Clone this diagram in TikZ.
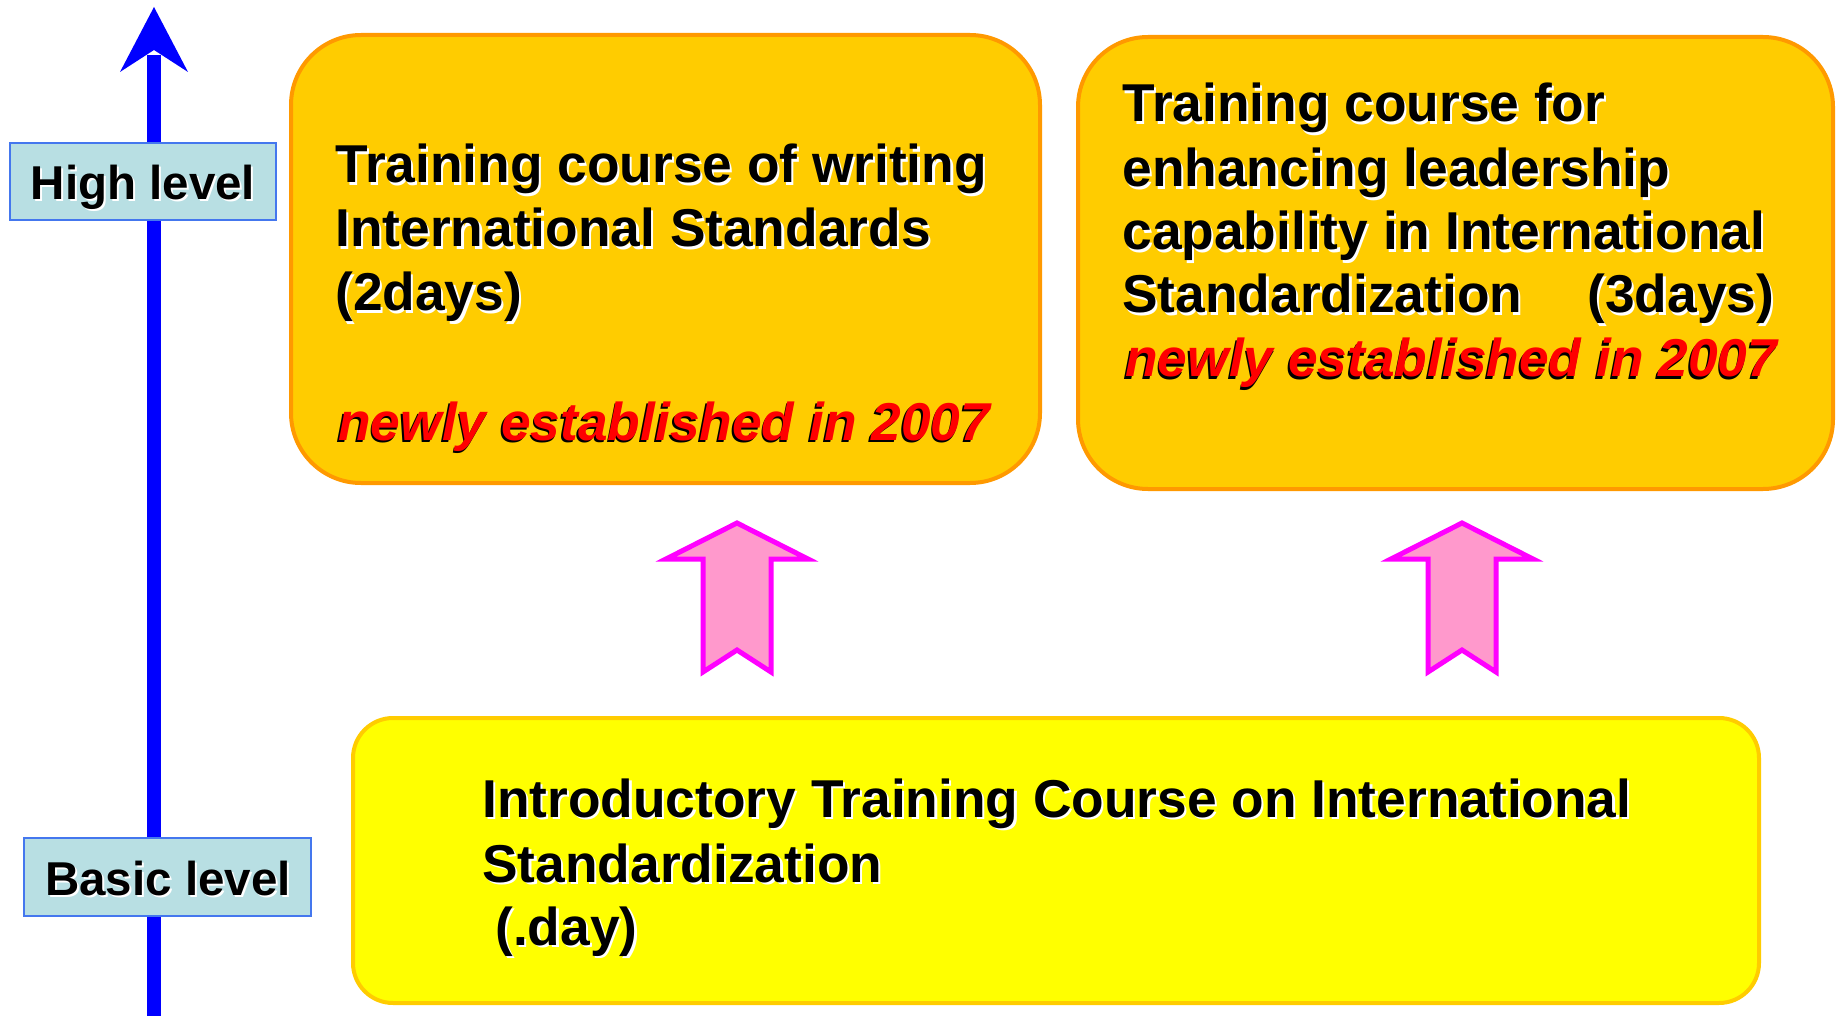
\documentclass[tikz,border=0pt]{standalone}
\usepackage{fontspec}
\setmainfont{Liberation Sans}
\usetikzlibrary{fit}
\definecolor{axisblue}{HTML}{0000FF}
\definecolor{lblfill}{HTML}{B8DFE3}
\definecolor{lblborder}{HTML}{4477EE}
\definecolor{boxorange}{HTML}{FFCC00}
\definecolor{boxborder}{HTML}{FF9900}
\definecolor{ylw}{HTML}{FFFF00}
\definecolor{ylwborder}{HTML}{FFCC00}
\definecolor{pinkfill}{HTML}{FF99CC}
\definecolor{magentaline}{HTML}{FF00FF}
\definecolor{redtxt}{HTML}{FF0000}
\newcommand\shtxt[5]{%
  \node[#1s] (#2s) at (#3,#4) {#5};
  \node[#1] (#2) at (#3,#4) {#5};}
\begin{document}
\begin{tikzpicture}[x=0.5pt,y=-0.5pt,
  bt/.style={font=\fontsize{26.65pt}{32pt}\selectfont\bfseries, anchor=base west, inner sep=0, text=black},
  bts/.style={bt, text=white, xshift=1.1pt, yshift=-1.1pt},
  rt/.style={font=\fontsize{26.65pt}{32pt}\selectfont\bfseries\itshape, anchor=base west, inner sep=0, text=redtxt},
  rts/.style={rt, text=black, xshift=-0.9pt, yshift=-1.3pt},
  lt/.style={font=\fontsize{23.75pt}{28pt}\selectfont\bfseries, anchor=base, inner sep=0, text=black},
  lts/.style={lt, text=white, xshift=1pt, yshift=-1pt},
  lbl/.style={draw=lblborder, line width=1pt, fill=lblfill, inner sep=-0.5pt},
  obox/.style={draw=boxborder, line width=2pt, fill=boxorange, rounded corners=35pt, inner sep=-1pt},
  ybox/.style={draw=ylwborder, line width=2pt, fill=ylw, rounded corners=20pt, inner sep=-1pt},
  uparrow/.style={draw=magentaline, line width=2.5pt, fill=pinkfill, line join=miter}
]
\useasboundingbox (0,0) rectangle (1837,1016);
\fill[white] (0,0) rectangle (1837,1016);

% vertical axis
\coordinate (axbot) at (154,1016);
\coordinate (axtop) at (154,55);
\draw[axisblue, line width=7pt] (axbot) -- (axtop);
\fill[axisblue] (154,7) -- (188,72) -- (154,50) -- (120,72) -- cycle;

% level labels
\node[lbl, fit={(9,142) (277,221)}] (high) {};
\shtxt{lt}{hightxt}{143}{200}{High level}
\node[lbl, fit={(23,837) (312,917)}] (basic) {};
\shtxt{lt}{basictxt}{168}{895}{Basic level}

% course boxes
\node[obox, fit={(289,33) (1042,485)}] (write) {};
\node[obox, fit={(1076,35) (1835,491)}] (lead) {};
\node[ybox, fit={(351,716) (1761,1005)}] (intro) {};

% texts of box 1
\shtxt{bt}{w1}{335}{183}{Training course of writing}
\shtxt{bt}{w2}{335}{247}{International Standards}
\shtxt{bt}{w3}{335}{311}{(2days)}
\shtxt{rt}{w4}{338}{440}{newly established in 2007}

% texts of box 2
\shtxt{bt}{l1}{1122}{122}{Training course for}
\shtxt{bt}{l2}{1122}{187}{enhancing leadership}
\shtxt{bt}{l3}{1122}{250}{capability in International}
\shtxt{bt}{l4}{1122}{313}{Standardization}
\shtxt{bt}{l5}{1587}{313}{(3days)}
\shtxt{rt}{l6}{1125}{377}{newly established in 2007}

% texts of bottom box
\shtxt{bt}{i1}{482}{817}{Introductory Training Course on International}
\shtxt{bt}{i2}{482}{882}{Standardization}
\shtxt{bt}{i3}{495}{945}{(.day)}

% pink block arrows
\draw[uparrow] (737,523) -- (808,559) -- (771,559) -- (771,672) -- (737,650) -- (703,672) -- (703,559) -- (666,559) -- cycle;
\draw[uparrow] (1462,523) -- (1533,559) -- (1496,559) -- (1496,672) -- (1462,650) -- (1428,672) -- (1428,559) -- (1391,559) -- cycle;
\end{tikzpicture}
\end{document}
